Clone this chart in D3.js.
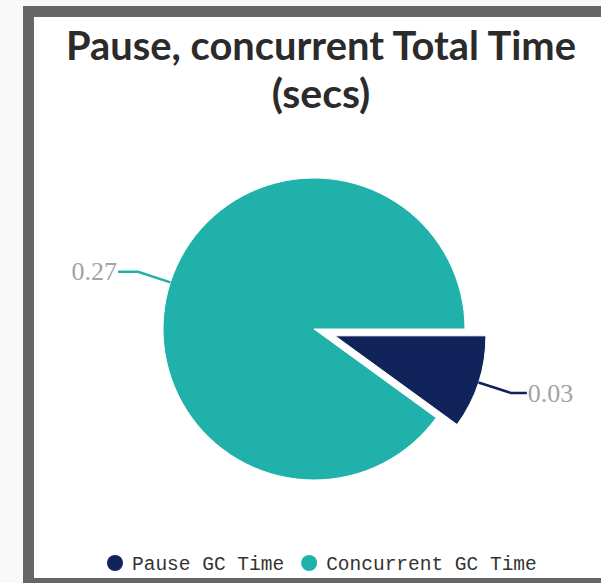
<!DOCTYPE html>
<html>
<head>
<meta charset="utf-8">
<script src="https://cdn.jsdelivr.net/npm/d3@7"></script>
<style>
  body { margin: 0; background: #f9f9f9; }
</style>
</head>
<body>
<svg id="chart"></svg>
<script>
// chart values
const categories = ["Pause GC Time", "Concurrent GC Time"];
const values = [0.03, 0.27];
const valueLabels = ["0.03", "0.27"];
const colors = ["#10235a", "#20b2aa"];
const titleLines = ["Pause, concurrent Total Time", "(secs)"];

const W = 601, H = 583;
const svg = d3.select("#chart").attr("width", W).attr("height", H);

// grey frame, open on the right
svg.append("rect")
  .attr("x", 28.5).attr("y", 11.5)
  .attr("width", 640).attr("height", 572)
  .attr("fill", "#fff")
  .attr("stroke", "#666")
  .attr("stroke-width", 11);

// title - first line squeezed a bit, the original font is narrower than Lato
svg.append("g").selectAll("text")
  .data(titleLines)
  .enter().append("text")
    .attr("x", 321)
    .attr("y", (d, i) => 60 + i * 48)
    .attr("text-anchor", "middle")
    .attr("font-family", "Lato, sans-serif")
    .attr("font-weight", "bold")
    .attr("font-size", "41px")
    .attr("fill", "#2b2b2b")
    .attr("textLength", (d, i) => i === 0 ? 510 : null)
    .attr("lengthAdjust", "spacingAndGlyphs")
    .text(d => d);

// pie
const cx = 314, cy = 329, r = 151, sliceOffset = 22;
const pie = d3.pie().sort(null)
  .startAngle(Math.PI / 2).endAngle(Math.PI / 2 + 2 * Math.PI);
const arcs = pie(values);
const arc = d3.arc().innerRadius(0).outerRadius(r);
const edge = d3.arc().innerRadius(r).outerRadius(r);
const knee = d3.arc().innerRadius(r + 34).outerRadius(r + 34);

// the first point (pause) is pulled out of the pie
const shift = (d, i) => {
  if (i !== 0) return [0, 0];
  const a = (d.startAngle + d.endAngle) / 2;
  return [Math.sin(a) * sliceOffset, -Math.cos(a) * sliceOffset];
};

const g = svg.append("g").attr("transform", `translate(${cx},${cy})`);

g.selectAll("path.slice")
  .data(arcs)
  .enter().append("path")
    .attr("class", "slice")
    .attr("transform", (d, i) => `translate(${shift(d, i)})`)
    .attr("d", arc)
    .attr("fill", (d, i) => colors[i])
    .attr("stroke", "#fff")
    .attr("stroke-width", 1)
    .attr("stroke-linejoin", "round");

// connectors and data labels
arcs.forEach((d, i) => {
  const [sx, sy] = shift(d, i);
  const p1 = edge.centroid(d), p2 = knee.centroid(d);
  const right = p2[0] > 0;
  const p3 = [p2[0] + (right ? 16 : -20), p2[1]];
  g.append("path")
    .attr("d", d3.line()([[p1[0] + sx, p1[1] + sy], [p2[0] + sx, p2[1] + sy], [p3[0] + sx, p3[1] + sy]]))
    .attr("fill", "none")
    .attr("stroke", colors[i])
    .attr("stroke-width", 2.5);
  g.append("text")
    .attr("x", p3[0] + sx + (right ? 1 : -1))
    .attr("y", p3[1] + sy)
    .attr("dy", "0.33em")
    .attr("text-anchor", right ? "start" : "end")
    .attr("font-family", "'Liberation Serif', serif")
    .attr("font-size", "26px")
    .attr("fill", "#a3a3a3")
    .text(valueLabels[i]);
});

// legend
const legend = svg.append("g").attr("transform", "translate(0,563)");
let lx = 115;
categories.forEach((c, i) => {
  legend.append("circle")
    .attr("cx", lx).attr("cy", 0).attr("r", 8)
    .attr("fill", colors[i]);
  const t = legend.append("text")
    .attr("x", lx + 17).attr("y", 0)
    .attr("dy", "0.35em")
    .attr("font-family", "'Liberation Mono', monospace")
    .attr("font-size", "19.5px")
    .attr("fill", "#333")
    .text(c);
  lx += 17 + t.node().getComputedTextLength() + 25;
});
</script>
</body>
</html>
